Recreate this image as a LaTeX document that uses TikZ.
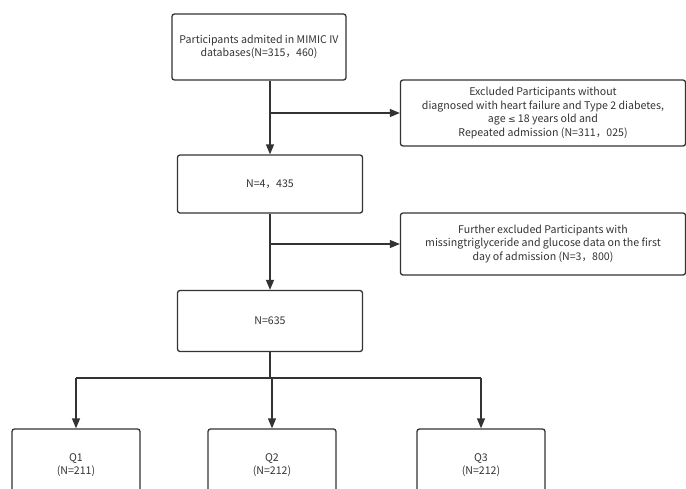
\documentclass[tikz,border=0pt]{standalone}
\usepackage{fontspec}
\setmainfont{Noto Sans CJK SC}
\newfontfamily\symfont{DejaVu Sans}
\usetikzlibrary{arrows.meta, positioning, calc}

\definecolor{ink}{HTML}{333333}

\begin{document}
\begin{tikzpicture}[x=1pt, y=-1pt,
  box/.style={rectangle, draw=ink, line width=1.3pt, rounded corners=2.5pt, align=center, text=ink, font=\fontsize{10.6}{13.5}\selectfont, inner sep=2pt},
  flow/.style={-{Triangle[length=10pt, width=8pt]}, draw=ink, line width=1.3pt}]
  \clip (0,0) rectangle (686,488);
  \fill[white] (0,0) rectangle (686,488);

  \node[box, minimum width=174pt, minimum height=66pt] (all) at (259,47) {Participants admited in MIMIC IV\\databases(N=315，460)};
  \node[box, minimum width=285pt, minimum height=66pt] (exa) at (543,113) {Excluded Participants without\\diagnosed with heart failure and Type 2 diabetes,\\age {\symfont\fontsize{9}{13.5}\selectfont ≤} 18 years old and\\Repeated admission (N=311，025)};
  \node[box, minimum width=185pt, minimum height=58pt] (hf) at (270,184) {N=4，435};
  \node[box, minimum width=285pt, minimum height=62pt] (exb) at (543,244) {Further excluded Participants with\\missingtriglyceride and glucose data on the first\\day of admission (N=3，800)};
  \node[box, minimum width=185pt, minimum height=61pt] (fin) at (270,321) {N=635};
  \node[box, minimum width=128pt, minimum height=72pt] (qa) at (76,465) {Q1\\(N=211)};
  \node[box, minimum width=128pt, minimum height=72pt] (qb) at (272,465) {Q2\\(N=212)};
  \node[box, minimum width=128pt, minimum height=72pt] (qc) at (481,465) {Q3\\(N=212)};

  % main line and exclusions
  \coordinate (top) at (hf.north |- all.south);
  \draw[flow] (top) -- (hf.north);
  \draw[flow] (hf.north |- exa.west) -- (exa.west);
  \draw[flow] (hf.south) -- (fin.north);
  \draw[flow] (fin.south |- exb.west) -- (exb.west);

  % split into quartiles
  \coordinate (split) at (270,378);
  \draw[draw=ink, line width=1.3pt] (fin.south) -- (split);
  \draw[draw=ink, line width=1.3pt] (qa.north |- split) -- (qc.north |- split);
  \draw[flow] (qa.north |- split) -- (qa.north);
  \draw[flow] (qb.north |- split) -- (qb.north);
  \draw[flow] (qc.north |- split) -- (qc.north);
\end{tikzpicture}
\end{document}
